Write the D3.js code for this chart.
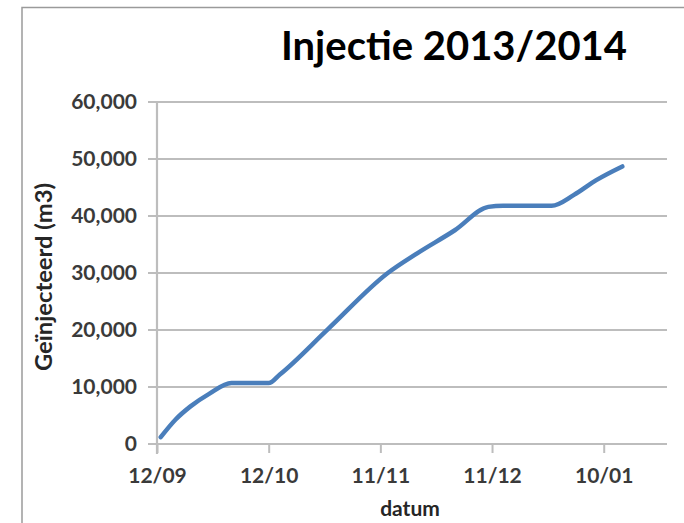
<!DOCTYPE html>
<head>
  <meta charset="utf-8">
  <title>Injectie 2013/2014</title>
  <style>
    body { margin: 0; background: #fff; }
    text { font-family: Lato, "Open Sans", sans-serif; }
  </style>
</head>
<body>
  <script src="https://cdn.jsdelivr.net/npm/d3@7/dist/d3.min.js"></script>
  <script>
    // data (day 0 = 12/09/2013)
    var dates = ["2013-09-13", "2013-09-17", "2013-09-21", "2013-09-26", "2013-10-02",
                 "2013-10-12", "2013-10-15", "2013-10-28", "2013-11-13", "2013-11-21",
                 "2013-12-01", "2013-12-10", "2013-12-14", "2013-12-27", "2014-01-02",
                 "2014-01-08", "2014-01-15"];
    var injected = [1200, 4300, 6600, 8800, 10700,
                    10700, 12200, 20200, 30000, 33500,
                    37500, 41600, 41800, 41800, 43700,
                    46300, 48700];
    var xTickDates = ["2013-09-12", "2013-10-12", "2013-11-11", "2013-12-11", "2014-01-10"];
    var yTicks = [0, 10000, 20000, 30000, 40000, 50000, 60000];

    var w = 684,
        h = 523;

    var parseDate = d3.timeParse("%Y-%m-%d");
    var data = dates.map(function(d, i) { return [parseDate(d), injected[i]]; });

    var svg = d3.select("body").append("svg").attr("width", w).attr("height", h);

    // chart frame (only top and left edge visible)
    svg.append("path")
      .attr("d", "M22," + h + "V7.5H" + w)
      .attr("fill", "none")
      .attr("stroke", "#9a9a9a")
      .attr("stroke-width", 1.5);

    // scales
    var x = d3.scaleTime()
      .domain([parseDate("2013-09-12"), parseDate("2014-01-27")])
      .range([157, 667]);
    var y = d3.scaleLinear().domain([0, 60000]).range([444, 102]);

    // gridlines
    svg.append("g").selectAll("line")
      .data(yTicks)
      .enter()
      .append("line")
      .attr("x1", 148)
      .attr("x2", 667)
      .attr("y1", function(d) { return y(d); })
      .attr("y2", function(d) { return y(d); })
      .attr("stroke", "#bdbdbd")
      .attr("stroke-width", 2.2);

    // y axis
    var yAxis = d3.axisLeft(y)
      .tickValues(yTicks)
      .tickSize(0)
      .tickPadding(20)
      .tickFormat(d3.format(","));
    var gy = svg.append("g").attr("transform", "translate(157,0)").call(yAxis);
    gy.select(".domain").remove();
    gy.append("line")
      .attr("x1", 0).attr("x2", 0)
      .attr("y1", 102).attr("y2", 454)
      .attr("stroke", "#bdbdbd")
      .attr("stroke-width", 2.2);
    gy.selectAll("text")
      .attr("fill", "#3a3a3a")
      .style("font-size", "21px")
      .style("font-weight", "bold");

    // x axis
    var xAxis = d3.axisBottom(x)
      .tickValues(xTickDates.map(parseDate))
      .tickSize(9)
      .tickPadding(15)
      .tickFormat(d3.timeFormat("%d/%m"));
    var gx = svg.append("g").attr("transform", "translate(0,444)").call(xAxis);
    gx.select(".domain").remove();
    gx.selectAll("line").attr("stroke", "#bdbdbd").attr("stroke-width", 2);
    gx.selectAll("text")
      .attr("fill", "#3a3a3a")
      .style("font-size", "21px")
      .style("font-weight", "bold");

    // the line
    var line = d3.line()
      .x(function(d) { return x(d[0]); })
      .y(function(d) { return y(d[1]); })
      .curve(d3.curveMonotoneX);

    svg.append("path")
      .datum(data)
      .attr("d", line)
      .attr("fill", "none")
      .attr("stroke", "#4a7ebb")
      .attr("stroke-width", 4.5)
      .attr("stroke-linecap", "round")
      .attr("stroke-linejoin", "round");

    // title
    svg.append("text")
      .attr("x", 454)
      .attr("y", 60)
      .attr("text-anchor", "middle")
      .style("font-size", "40px")
      .style("font-weight", "bold")
      .attr("fill", "#000")
      .text("Injectie 2013/2014");

    // axis titles
    svg.append("text")
      .attr("x", 410)
      .attr("y", 516)
      .attr("text-anchor", "middle")
      .style("font-size", "21px")
      .style("font-weight", "bold")
      .attr("fill", "#262626")
      .text("datum");

    svg.append("text")
      .attr("transform", "translate(52,277) rotate(-90)")
      .attr("text-anchor", "middle")
      .attr("textLength", 188)
      .attr("lengthAdjust", "spacingAndGlyphs")
      .style("font-size", "22px")
      .style("font-weight", "bold")
      .attr("fill", "#262626")
      .text("Geïnjecteerd (m3)");
  </script>
</body>
